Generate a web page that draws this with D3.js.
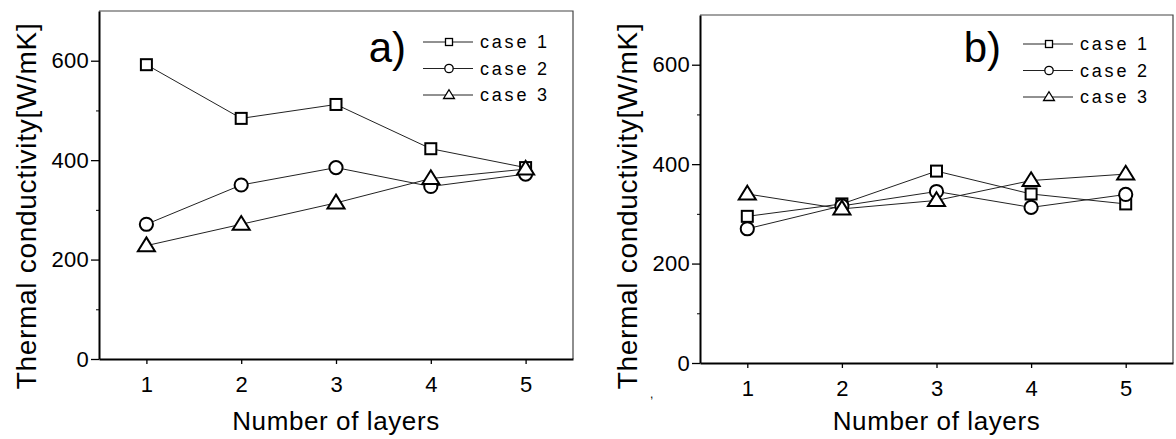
<!DOCTYPE html>
<html>
<head>
<meta charset="utf-8">
<script src="https://cdn.jsdelivr.net/npm/d3@7"></script>
<style>
  body { margin: 0; background: #fff; }
  svg text { font-family: "Liberation Sans", Arial, sans-serif; fill: #000; }
</style>
</head>
<body>
<svg id="chart" width="1176" height="439"></svg>
<script>
// Layers on the x axis
var layers = [1, 2, 3, 4, 5];
var caseNames = ["case 1", "case 2", "case 3"];
var yTicks = [0, 200, 400, 600];
var yMinorTicks = [100, 300, 500];

// Panel a) values [W/mK]
var a_case1 = [592, 484, 512, 423, 385];
var a_case2 = [271, 350, 385, 347, 372];
var a_case3 = [228, 271, 314, 363, 382];

// Panel b) values [W/mK]
var b_case1 = [295, 320, 386, 340, 320];
var b_case2 = [270, 316, 345, 313, 339];
var b_case3 = [340, 310, 327, 367, 380];

var symbols = ["square", "circle", "triangle"];

var svg = d3.select("#chart");

// Draw one open marker centred on 0,0
function marker(g, kind, size) {
  if (kind === "square") {
    g.append("rect").attr("x", -size / 2).attr("y", -size / 2)
      .attr("width", size).attr("height", size);
  } else if (kind === "circle") {
    g.append("circle").attr("r", size * 0.6);
  } else {
    var w = size * 1.55, h = size * 1.25;
    g.append("path").attr("d", "M0," + (-h * 0.6) + "L" + (w / 2) + "," + (h * 0.4) + "L" + (-w / 2) + "," + (h * 0.4) + "Z");
  }
  g.selectAll("*").attr("fill", "#fff").attr("stroke", "#000");
}

function panel(opt) {
  var x = d3.scaleLinear().domain([0.5, 5.5]).range([opt.left, opt.right]);
  var y = d3.scaleLinear().domain([0, 700]).range([opt.bottom, opt.top]);
  var g = svg.append("g");

  // frame: thin top and right
  g.append("path")
    .attr("d", "M" + opt.left + "," + opt.top + "H" + opt.right + "V" + opt.bottom)
    .attr("fill", "none").attr("stroke", "#444").attr("stroke-width", 1.2);

  // y axis
  var yAxis = g.append("g").attr("transform", "translate(" + opt.left + ",0)")
    .call(d3.axisLeft(y).tickValues(yTicks).tickSize(8).tickPadding(2).tickSizeOuter(0));
  yAxis.select(".domain").attr("stroke-width", 2);
  yAxis.selectAll(".tick line").attr("stroke-width", 1.3);
  yAxis.selectAll("text").style("font-size", "22px").style("letter-spacing", "0.3px");
  g.append("g").attr("transform", "translate(" + opt.left + ",0)")
    .call(d3.axisLeft(y).tickValues(yMinorTicks).tickSize(3).tickFormat(""))
    .select(".domain").remove();

  // x axis
  var xAxis = g.append("g").attr("transform", "translate(0," + opt.bottom + ")")
    .call(d3.axisBottom(x).tickValues(layers).tickSize(5).tickPadding(16).tickSizeOuter(0).tickFormat(d3.format("d")));
  xAxis.select(".domain").attr("stroke-width", 2);
  xAxis.selectAll(".tick line").attr("stroke-width", 1.3);
  xAxis.selectAll("text").style("font-size", "22px").attr("dy", null).attr("y", 33);

  // axis titles
  g.append("text")
    .attr("x", (opt.left + opt.right) / 2).attr("y", 430)
    .attr("text-anchor", "middle").style("font-size", "26px").style("letter-spacing", "0.6px")
    .text("Number of layers");
  g.append("text")
    .attr("transform", "translate(" + opt.titleX + ",206) rotate(-90)")
    .attr("text-anchor", "middle").style("font-size", "28px").style("letter-spacing", "0.7px")
    .text("Thermal conductivity[W/mK]");

  // series
  var line = d3.line().x(function(d, i) { return x(layers[i]); }).y(function(d) { return y(d); });
  opt.series.forEach(function(vals) {
    g.append("path").datum(vals).attr("d", line)
      .attr("fill", "none").attr("stroke", "#222").attr("stroke-width", 1);
  });
  opt.series.forEach(function(vals, s) {
    vals.forEach(function(v, i) {
      var m = g.append("g").attr("transform", "translate(" + x(layers[i]) + "," + y(v) + ")");
      marker(m, symbols[s], 11);
      m.selectAll("*").attr("stroke-width", 2);
    });
  });

  // panel label
  g.append("text").attr("x", opt.labelX).attr("y", 62)
    .attr("text-anchor", "end").style("font-size", "42px").text(opt.label);

  // legend
  caseNames.forEach(function(name, i) {
    var ly = opt.legendY + i * 26.5;
    g.append("line").attr("x1", opt.legendX).attr("x2", opt.legendX + 50)
      .attr("y1", ly).attr("y2", ly).attr("stroke", "#222").attr("stroke-width", 1);
    var m = g.append("g").attr("transform", "translate(" + (opt.legendX + 26) + "," + ly + ")");
    marker(m, symbols[i], 7);
    m.selectAll("*").attr("stroke-width", 1.3);
    g.append("text").attr("x", opt.legendX + 57).attr("y", ly + 6)
      .style("font-size", "18px").style("letter-spacing", "2.8px").text(name);
  });
}

panel({ left: 99, right: 573, top: 11, bottom: 359, label: "a)", labelX: 406,
        titleX: 36, legendX: 423, legendY: 42, series: [a_case1, a_case2, a_case3] });
panel({ left: 700, right: 1173, top: 15, bottom: 363, label: "b)", labelX: 1001,
        titleX: 637, legendX: 1023, legendY: 44, series: [b_case1, b_case2, b_case3] });

// small stray mark in the scan
svg.append("text").attr("x", 650).attr("y", 398).style("font-size", "12px").text(",");
</script>
</body>
</html>
